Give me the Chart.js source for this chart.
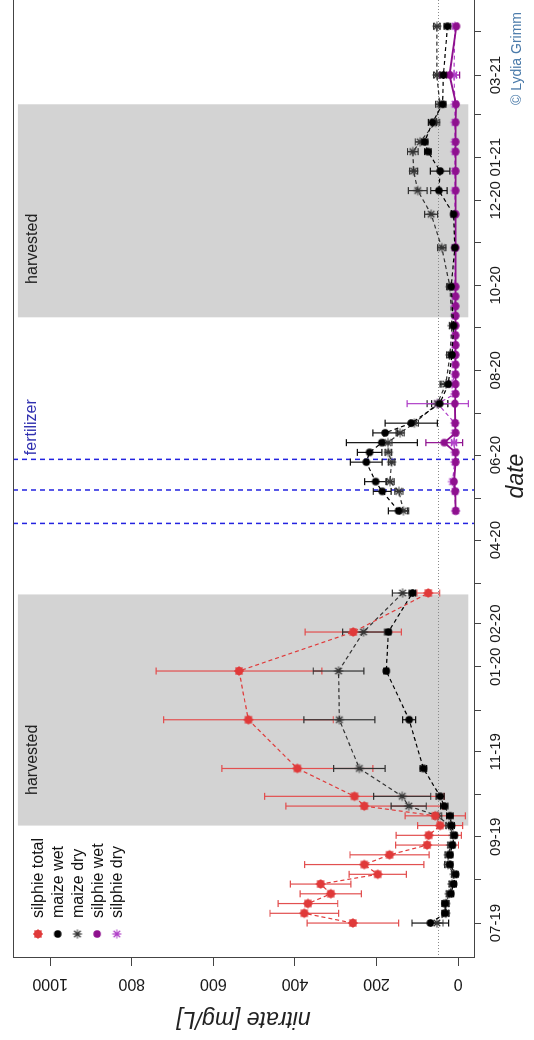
<!DOCTYPE html>
<html>
<head>
<meta charset="utf-8">
<script src="https://cdn.jsdelivr.net/npm/chart.js@4/dist/chart.umd.min.js"></script>
<style>
  html, body { margin: 0; padding: 0; background: #fff; overflow: hidden; width: 534px; height: 1040px; }
  /* the chart is drawn lying down and turned a quarter left */
  #wrap { position: absolute; left: 0; top: 0; width: 1060px; height: 534px;
          transform-origin: 0 0; transform: translate(0px, 1040px) rotate(-90deg); }
  canvas { display: block; }
</style>
</head>
<body>
<div id="wrap"><canvas id="chart" width="1060" height="534"></canvas></div>
<script>
// ================= DATA =================

const season1Dates = ['2019-07-01','2019-07-08','2019-07-15','2019-07-22','2019-07-29','2019-08-05','2019-08-12',
  '2019-08-19','2019-08-26','2019-09-02','2019-09-09','2019-09-16','2019-09-23','2019-09-30','2019-10-20',
  '2019-11-24','2019-12-29','2020-01-26','2020-02-23'];
const silphieTotal    = [258, 377, 368, 312, 337, 197, 230, 168, 76, 72, 44, 56, 230, 254, 394, 514, 537, 257, 73];
const silphieTotalErr = [112, 84, 73, 75, 74, 70, 146, 97, 77, 80, 55, 74, 192, 220, 185, 208, 203, 118, 28];
const maizeWet1    = [68, 32, 32, 18, 11, 6, 20, 20, 14, 9, 16, 20, 34, 44, 85, 120, 176, 171, 112];
const maizeWet1Err = [45, 8, 8, 7, 7, 6, 7, 7, 6, 6, 7, 8, 9, 10, 8, 16, 6, 6, 8];
const maizeDry1    = [52, 30, 30, 22, 15, 10, 25, 24, 18, 12, 22, 50, 121, 137, 242, 291, 293, 232, 136];
const maizeDry1Err = [15, 8, 8, 7, 7, 6, 8, 8, 7, 6, 8, 10, 43, 70, 63, 87, 62, 51, 25];

const maize2Dates = ['2020-04-22','2020-05-06','2020-05-13','2020-05-27','2020-06-03','2020-06-10','2020-06-17',
  '2020-06-24','2020-07-08','2020-07-22','2020-08-12','2020-09-02','2020-09-30','2020-10-28','2020-11-21',
  '2020-12-08','2020-12-22','2021-01-05','2021-01-12','2021-01-26','2021-02-08','2021-03-01','2021-04-05'];
const maizeWet2    = [146, 186, 202, 225, 217, 187, 179, 115, 45, 24, 15, 11, 17, 8, 11, 47, 44, 74, 82, 63, 38, 36, 26];
const maizeWet2Err = [25, 22, 27, 39, 30, 87, 30, 64, 20, 20, 8, 6, 8, 6, 6, 20, 24, 8, 8, 10, 8, 8, 8];
const maizeDry2    = [134, 145, 167, 163, 171, 172, 142, 107, 51, 30, 20, 15, 20, 40, 66, 99, 109, 111, 93, 55, 45, 52, 52];
const maizeDry2Err = [10, 10, 10, 8, 8, 10, 10, 10, 25, 10, 8, 6, 8, 10, 16, 23, 10, 13, 12, 10, 10, 8, 8];

const silphie2Dates = ['2020-04-22','2020-05-06','2020-05-13','2020-05-27','2020-06-03','2020-06-10','2020-06-17',
  '2020-06-24','2020-07-08','2020-07-15','2020-07-22','2020-07-29','2020-08-05','2020-08-12','2020-08-19',
  '2020-08-26','2020-09-02','2020-09-09','2020-09-16','2020-09-23','2020-09-30','2020-10-28','2020-11-21',
  '2020-12-08','2020-12-22','2021-01-05','2021-01-12','2021-01-26','2021-02-08','2021-03-01','2021-04-05'];
const silphieWet    = [6, 7, 10, 6, 6, 34, 6, 7, 8, 6, 6, 6, 6, 6, 6, 6, 6, 6, 6, 6, 6, 6, 6, 6, 6, 6, 6, 6, 5, 21, 4];
const silphieWetErr = [3, 3, 3, 3, 3, 45, 3, 3, 3, 3, 3, 3, 3, 3, 3, 3, 3, 3, 3, 3, 3, 3, 3, 3, 3, 3, 3, 3, 3, 25, 3];
const silphieDry    = [6, 8, 14, 8, 8, 10, 8, 8, 50, 8, 15, 8, 8, 8, 8, 8, 8, 8, 8, 8, 8, 8, 8, 8, 8, 8, 8, 8, 8, 10, 8];
const silphieDryErr = [4, 4, 4, 4, 4, 6, 4, 4, 75, 4, 12, 4, 4, 4, 4, 4, 4, 4, 4, 4, 4, 4, 4, 4, 4, 4, 4, 4, 4, 6, 4];

const harvestStart = ['2019-09-09', '2020-09-08'];
const harvestEnd   = ['2020-02-22', '2021-02-08'];
const fertilizerDates = ['2020-04-13', '2020-05-07', '2020-05-29'];
const nitrateLimit = 50;
const yTicks = [0, 200, 400, 600, 800, 1000];
const dateLabels = ['07-19','09-19','11-19','01-20','02-20','04-20','06-20','08-20','10-20','12-20','01-21','03-21'];

// ================= HELPERS =================

const START = Date.UTC(2019, 6, 1);
const FONT = '"Liberation Sans", Arial, sans-serif';

function day(s) {
  const [y, m, d] = s.split('-').map(Number);
  return (Date.UTC(y, m - 1, d) - START) / 864e5;
}

function monthLabel(v) {
  const dt = new Date(START + v * 864e5);
  return String(dt.getUTCMonth() + 1).padStart(2, '0') + '-' + String(dt.getUTCFullYear() % 100);
}

const monthTicks = [];
for (let i = 0; i <= 21; i++) monthTicks.push((Date.UTC(2019, 6 + i, 1) - START) / 864e5);

function points(dates, values) {
  return dates.map((d, i) => ({ x: day(d), y: values[i] }));
}

// two seasons, with a break in the line between them
function twoSeasons(dates1, values1, dates2, values2) {
  return points(dates1, values1).concat([{ x: day('2020-03-25'), y: null }], points(dates2, values2));
}

function marker(kind, color) {
  const c = document.createElement('canvas');
  c.width = 14; c.height = 14;
  const g = c.getContext('2d');
  g.fillStyle = color; g.strokeStyle = color; g.lineWidth = 1.2;
  if (kind !== 'star') {
    g.beginPath(); g.arc(7, 7, kind === 'dot' ? 3.8 : 4.1, 0, Math.PI * 2); g.fill();
  }
  if (kind !== 'dot') {
    const r = kind === 'star' ? 4.6 : 4.9;
    g.beginPath();
    for (let a = 0; a < 4; a++) {
      const t = a * Math.PI / 4;
      g.moveTo(7 - r * Math.cos(t), 7 - r * Math.sin(t));
      g.lineTo(7 + r * Math.cos(t), 7 + r * Math.sin(t));
    }
    g.stroke();
  }
  return c;
}

const RED = '#E03A3A', BLACK = '#000000', GREY = '#333333', PURPLE = '#8E108E', VIOLET = '#B040C8';

const series = [
  { label: 'silphie total', data: points(season1Dates, silphieTotal), err: silphieTotalErr,
    color: RED, errColor: '#E25050', mark: marker('dotstar', RED), dash: [4, 3] },
  { label: 'maize wet', data: twoSeasons(season1Dates, maizeWet1, maize2Dates, maizeWet2),
    err: maizeWet1Err.concat([0], maizeWet2Err), color: BLACK, errColor: '#111', mark: marker('dot', BLACK), dash: [4, 3] },
  { label: 'maize dry', data: twoSeasons(season1Dates, maizeDry1, maize2Dates, maizeDry2),
    err: maizeDry1Err.concat([0], maizeDry2Err), color: GREY, errColor: '#333', mark: marker('star', GREY), dash: [4, 3] },
  { label: 'silphie wet', data: points(silphie2Dates, silphieWet), err: silphieWetErr,
    color: PURPLE, errColor: PURPLE, mark: marker('dot', PURPLE), dash: [] },
  { label: 'silphie dry', data: points(silphie2Dates, silphieDry), err: silphieDryErr,
    color: VIOLET, errColor: VIOLET, mark: marker('star', VIOLET), dash: [4, 3] }
];

// ================= PLUGIN =================

const decorations = {
  id: 'decorations',
  beforeDatasetsDraw(chart) {
    const { ctx, chartArea: a, scales: { x, y } } = chart;
    ctx.save();
    ctx.beginPath(); ctx.rect(a.left, a.top, a.width, a.height); ctx.clip();

    ctx.fillStyle = '#D3D3D3';
    harvestStart.forEach((s, i) => {
      const x1 = x.getPixelForValue(day(s)), x2 = x.getPixelForValue(day(harvestEnd[i]));
      const y1 = y.getPixelForValue(1079), y2 = y.getPixelForValue(-25);
      ctx.fillRect(x1, y1, x2 - x1, y2 - y1);
    });

    ctx.strokeStyle = '#8a8a8a'; ctx.lineWidth = 1; ctx.setLineDash([1, 2]);
    const yl = Math.round(y.getPixelForValue(nitrateLimit)) + 0.5;
    ctx.beginPath(); ctx.moveTo(a.left, yl); ctx.lineTo(a.right, yl); ctx.stroke();

    ctx.strokeStyle = '#2323E0'; ctx.lineWidth = 1.5; ctx.setLineDash([5, 4]);
    fertilizerDates.forEach(d => {
      const px = x.getPixelForValue(day(d));
      ctx.beginPath(); ctx.moveTo(px, a.top); ctx.lineTo(px, a.bottom); ctx.stroke();
    });

    ctx.setLineDash([]);
    chart.data.datasets.forEach(ds => {
      ctx.strokeStyle = ds.errColor; ctx.lineWidth = 1.2;
      ds.data.forEach((p, i) => {
        if (p.y === null) return;
        const e = ds.err[i];
        const px = x.getPixelForValue(p.x);
        const lo = y.getPixelForValue(p.y - e), hi = y.getPixelForValue(p.y + e);
        ctx.beginPath();
        ctx.moveTo(px, lo); ctx.lineTo(px, hi);
        ctx.moveTo(px - 3.5, lo); ctx.lineTo(px + 3.5, lo);
        ctx.moveTo(px - 3.5, hi); ctx.lineTo(px + 3.5, hi);
        ctx.stroke();
      });
    });
    ctx.restore();
  },
  afterDatasetsDraw(chart) {
    const { ctx, chartArea: a, scales: { x, y } } = chart;
    ctx.save();
    ctx.strokeStyle = '#444'; ctx.lineWidth = 1;
    ctx.strokeRect(Math.round(a.left) + 0.5, Math.round(a.top) + 0.5,
      Math.round(a.width), Math.round(a.height));

    ctx.textBaseline = 'middle'; ctx.textAlign = 'left';
    ctx.font = '16px ' + FONT;
    ctx.fillStyle = '#222';
    ctx.fillText('harvested', x.getPixelForValue(day('2019-10-01')), y.getPixelForValue(1043));
    ctx.fillText('harvested', x.getPixelForValue(day('2020-10-02')), y.getPixelForValue(1043));

    ctx.fillStyle = '#3030B0';
    ctx.fillText('fertilizer', x.getPixelForValue(day('2020-06-01')), y.getPixelForValue(1045));

    // legend, top left of the plot
    chart.data.datasets.forEach((ds, i) => {
      const ly = a.top + 25 + i * 19.7;
      ctx.drawImage(ds.mark, a.left + 24 - 7, ly - 7);
      ctx.fillStyle = '#111';
      ctx.fillText(ds.label, a.left + 40, ly + 1);
    });

    ctx.font = '14px ' + FONT;
    ctx.fillStyle = '#4B7BAA';
    ctx.fillText('\u00A9 Lydia Grimm', a.right - 111, 517);
    ctx.restore();
  }
};

// ================= CHART =================

new Chart(document.getElementById('chart'), {
  type: 'line',
  data: {
    datasets: series.map(s => ({
      label: s.label,
      data: s.data,
      err: s.err,
      errColor: s.errColor,
      mark: s.mark,
      borderColor: s.color,
      borderWidth: s.dash.length ? 1.2 : 1.8,
      borderDash: s.dash,
      pointStyle: s.mark,
      spanGaps: false,
      tension: 0,
      fill: false
    }))
  },
  options: {
    responsive: false,
    animation: false,
    devicePixelRatio: 1,
    events: [],
    layout: { padding: { left: 0, right: 14, top: 13, bottom: 0 } },
    plugins: { legend: { display: false }, tooltip: { enabled: false } },
    scales: {
      x: {
        type: 'linear',
        min: -25.1,
        max: 667.2,
        afterFit: s => { s.height = 60; },
        afterBuildTicks: s => { s.ticks = monthTicks.map(v => ({ value: v })); },
        grid: { drawOnChartArea: false, drawTicks: true, tickLength: 7, tickColor: '#444' },
        border: { display: false },
        ticks: {
          autoSkip: false, maxRotation: 0, padding: 6, color: '#1a1a1a',
          font: { size: 15, family: FONT },
          callback: v => { const l = monthLabel(v); return dateLabels.includes(l) ? l : ''; }
        },
        title: { display: true, text: 'date', color: '#222',
          font: { size: 23, style: 'italic', family: FONT }, padding: { top: 0, bottom: 4 } }
      },
      y: {
        type: 'linear',
        min: -39,
        max: 1091,
        afterFit: s => { s.width = 82; },
        afterBuildTicks: s => { s.ticks = yTicks.map(v => ({ value: v })); },
        grid: { drawOnChartArea: false, drawTicks: true, tickLength: 8, tickColor: '#444' },
        border: { display: false },
        ticks: {
          minRotation: 90, maxRotation: 90, crossAlign: 'center', padding: 0, color: '#1a1a1a',
          font: { size: 16, family: FONT },
          callback: v => String(v)
        },
        title: { display: true, text: 'nitrate [mg/L]', color: '#222',
          font: { size: 23, style: 'italic', family: FONT }, padding: { top: 8, bottom: 0 } }
      }
    }
  },
  plugins: [decorations]
});
</script>
</body>
</html>
